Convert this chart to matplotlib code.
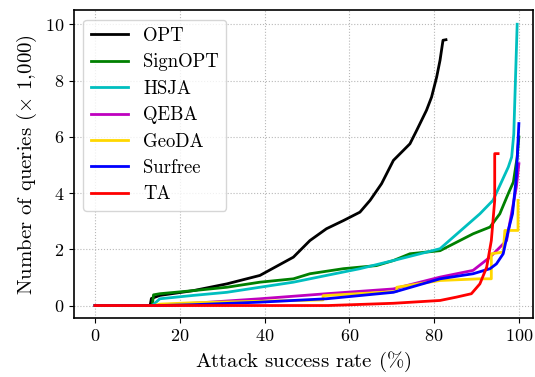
import matplotlib.pyplot as plt

# Attack success rate (%) vs. number of queries (x 1,000)
opt_x = [0, 13.0, 13.3, 15.3, 23.2, 31.1, 38.9, 46.8, 50.7, 54.6, 58.6, 62.5, 64.9, 67.6, 70.4, 74.3, 75.9, 78.2, 79.4, 80.6, 81.4, 82.1, 82.8]
opt_y = [0, 0, 0.25, 0.36, 0.53, 0.77, 1.07, 1.72, 2.31, 2.73, 3.02, 3.32, 3.74, 4.33, 5.16, 5.75, 6.23, 6.94, 7.41, 8.12, 8.72, 9.43, 9.45]

signopt_x = [0, 13.5, 13.8, 15.3, 23.2, 31.1, 38.9, 46.8, 50.7, 58.6, 66.4, 70.4, 74.3, 81.4, 89.2, 93.2, 95.5, 97.5, 98.7, 99.6, 100]
signopt_y = [0, 0, 0.38, 0.42, 0.53, 0.65, 0.83, 0.95, 1.13, 1.31, 1.42, 1.6, 1.84, 1.95, 2.55, 2.79, 3.26, 3.98, 4.39, 5.28, 5.99]

hsja_x = [0, 13.5, 15.3, 23.2, 31.1, 38.9, 46.8, 54.6, 62.5, 70.4, 81.4, 90.8, 93.9, 97.5, 98.3, 98.8, 99.6]
hsja_y = [0, 0, 0.24, 0.36, 0.47, 0.65, 0.83, 1.07, 1.31, 1.6, 2.02, 3.26, 3.74, 4.92, 5.28, 6.1, 10.0]

qeba_x = [0, 15.0, 23.2, 38.9, 54.6, 70.4, 81.4, 89.2, 93.2, 97.1, 99.4, 100]
qeba_y = [0, 0, 0.08, 0.24, 0.42, 0.59, 1.01, 1.25, 1.72, 2.31, 4.21, 5.04]

geoda_x = [0, 14.0, 15.3, 23.2, 53.8, 53.8, 71.2, 71.2, 81.4, 90.8, 93.5, 93.5, 96.3, 96.7, 99.8, 99.8]
geoda_y = [0, 0, 0.05, 0.1, 0.2, 0.35, 0.5, 0.65, 0.89, 0.95, 0.95, 1.84, 1.9, 2.67, 2.67, 3.74]

surfree_x = [0, 15.0, 23.2, 38.9, 54.6, 70.4, 81.4, 89.2, 93.2, 94.7, 96.3, 97.5, 98.5, 99.4, 100]
surfree_y = [0, 0, 0.03, 0.12, 0.24, 0.47, 0.95, 1.13, 1.31, 1.48, 1.84, 2.67, 3.26, 4.57, 6.47]

ta_x = [0, 55.0, 70.4, 81.4, 85.3, 88.8, 90.8, 92.4, 93.5, 94.3, 94.3, 95.1]
ta_y = [0, 0, 0.08, 0.18, 0.3, 0.42, 0.77, 1.36, 2.31, 3.74, 5.4, 5.4]

series = [
    ('OPT', opt_x, opt_y, 'k'),
    ('SignOPT', signopt_x, signopt_y, 'g'),
    ('HSJA', hsja_x, hsja_y, 'c'),
    ('QEBA', qeba_x, qeba_y, 'm'),
    ('GeoDA', geoda_x, geoda_y, 'gold'),
    ('Surfree', surfree_x, surfree_y, 'b'),
    ('TA', ta_x, ta_y, 'r'),
]


def main():
    plt.rcParams['font.family'] = 'serif'
    plt.rcParams['font.serif'] = ['cmr10']
    plt.rcParams['mathtext.fontset'] = 'cm'
    plt.rcParams['axes.formatter.use_mathtext'] = True

    fig = plt.figure(figsize=(5.35, 3.77), dpi=100)
    ax = fig.add_axes([0.138, 0.156, 0.858, 0.817])
    for name, xs, ys, c in series:
        ax.plot(xs, ys, color=c, linewidth=2, label=name)

    ax.set_xlim(-5, 103.3)
    ax.set_ylim(-0.45, 10.5)
    ax.set_xticks([0, 20, 40, 60, 80, 100])
    ax.set_yticks([0, 2, 4, 6, 8, 10])
    ax.tick_params(labelsize=13)
    ax.set_xlabel(r'Attack success rate ($\%$)', fontsize=15)
    ax.set_ylabel(r'Number of queries ($\times$ 1,000)', fontsize=15)
    ax.grid(linestyle=':', linewidth=0.8, color='#b8b8b8')
    for s in ax.spines.values():
        s.set_linewidth(1.2)
    ax.legend(loc='upper left', fontsize=13.5, handlelength=2.0, labelspacing=0.45)
    fig.savefig('out.png', dpi=100)


if __name__ == '__main__':
    main()
